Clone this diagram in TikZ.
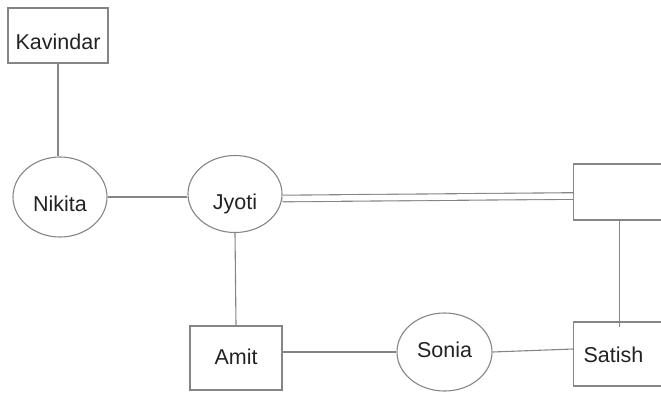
\documentclass[tikz,border=0pt]{standalone}
\usepackage{fontspec}
\setmainfont{Liberation Sans}
\usetikzlibrary{shapes.geometric,calc}
\definecolor{edgegray}{HTML}{858585}
\definecolor{txt}{HTML}{222222}
\begin{document}
\begin{tikzpicture}[x=1bp,y=1bp,
  every node/.style={font=\fontsize{21.5bp}{25bp}\selectfont, text=txt, text depth=0pt},
  box/.style={draw=edgegray, line width=1.1bp, rectangle, inner sep=0pt},
  oval/.style={draw=edgegray, line width=1.1bp, ellipse, inner sep=0pt},
  link/.style={draw=edgegray, line width=1.1bp}]
\useasboundingbox (0,0) rectangle (661,392);
\clip (0,0) rectangle (661,392);
\node[box, minimum width=100bp, minimum height=55bp, text height=27.5bp] (kav) at (58,356.5) {Kavindar};
\node[oval, minimum width=94bp, minimum height=80bp, text height=29bp] (nik) at (60,195) {Nikita};
\node[oval, minimum width=94bp, minimum height=77bp, text height=31.5bp] (jyo) at (235,198) {Jyoti};
\node[box, anchor=west, minimum width=110bp, minimum height=56bp] (top) at (573,200) {};
\node[box, minimum width=92bp, minimum height=64bp, text height=12.5bp] (amit) at (236,34) {Amit};
\node[oval, minimum width=95bp, minimum height=78bp, text height=10.5bp] (son) at (444.5,40) {Sonia};
\node[box, anchor=west, text width=85bp, align=left, inner xsep=10bp, minimum height=64bp, text height=16.5bp] (sat) at (573,38) {Satish};
\draw[link] (kav.south) -- (kav.south |- nik.north);
\draw[link] (nik.east) -- (nik.east -| jyo.west);
\draw[link, double=white, double distance=5.5bp] ([yshift=-4.5bp]jyo.east) -- ([yshift=-4bp]top.west);
\draw[link] (jyo.south) -- (amit.north);
\draw[link] (amit.east |- son.west) -- (son.west);
\draw[link] (son.east) -- ([yshift=5bp]sat.west);
\coordinate (tj) at ([xshift=-9bp]top.south);
\coordinate (sj) at ([yshift=-6bp]sat.north);
\draw[link] (tj) -- (tj |- sj);
\end{tikzpicture}
\end{document}
